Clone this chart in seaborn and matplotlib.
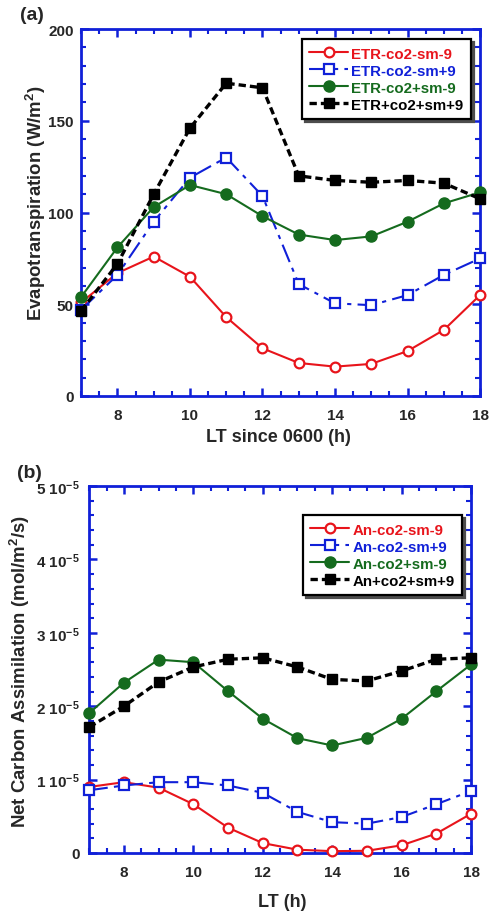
import matplotlib
matplotlib.use("Agg")
import matplotlib.pyplot as plt
import seaborn as sns
import numpy as np
import pandas as pd
from matplotlib.ticker import MultipleLocator, FixedLocator

hours = [7, 8, 9, 10, 11, 12, 13, 14, 15, 16, 17, 18]

etr_labels = ["ETR-co2-sm-9", "ETR-co2-sm+9", "ETR-co2+sm-9", "ETR+co2+sm+9"]
etr_red = [51, 67, 76, 65, 43, 26, 18, 16, 17.5, 24.5, 36, 55]
etr_blue = [47, 66, 95, 119, 130, 109, 61, 50.5, 49.5, 55, 66, 75]
etr_green = [54, 81, 103, 115, 110, 98, 88, 85, 87, 95, 105, 111]
etr_black = [46.5, 72, 110, 146, 170.5, 168, 120, 117.5, 116.5, 117.5, 116, 107.5]

an_labels = ["An-co2-sm-9", "An-co2-sm+9", "An-co2+sm-9", "An+co2+sm+9"]
an_red = [0.90e-5, 0.965e-5, 0.89e-5, 0.665e-5, 0.345e-5, 0.135e-5, 0.045e-5, 0.025e-5, 0.03e-5, 0.105e-5, 0.265e-5, 0.535e-5]
an_blue = [0.855e-5, 0.92e-5, 0.965e-5, 0.965e-5, 0.92e-5, 0.82e-5, 0.56e-5, 0.42e-5, 0.40e-5, 0.49e-5, 0.665e-5, 0.845e-5]
an_green = [1.905e-5, 2.32e-5, 2.635e-5, 2.60e-5, 2.205e-5, 1.83e-5, 1.565e-5, 1.465e-5, 1.57e-5, 1.83e-5, 2.205e-5, 2.57e-5]
an_black = [1.715e-5, 2.0e-5, 2.33e-5, 2.535e-5, 2.64e-5, 2.66e-5, 2.535e-5, 2.365e-5, 2.345e-5, 2.48e-5, 2.64e-5, 2.66e-5]

b_ytick_vals = [0, 1e-5, 2e-5, 3e-5, 4e-5, 5e-5]
b_ytick_labels = ["0", "1 10$^{-5}$", "2 10$^{-5}$", "3 10$^{-5}$", "4 10$^{-5}$", "5 10$^{-5}$"]

sns.set_style("ticks")
plt.rcParams["font.family"] = ["Liberation Sans", "DejaVu Sans"]
plt.rcParams["font.weight"] = "bold"
plt.rcParams["axes.labelweight"] = "bold"
plt.rcParams["mathtext.fontset"] = "custom"
plt.rcParams["mathtext.rm"] = "Liberation Sans:bold"
plt.rcParams["mathtext.bf"] = "Liberation Sans:bold"
plt.rcParams["mathtext.it"] = "Liberation Sans:bold"
plt.rcParams["mathtext.default"] = "bf"

fig = plt.figure(figsize=(4.98, 9.12), dpi=100)
ax1 = fig.add_axes([0.163, 0.5647, 0.801, 0.4023])
ax2 = fig.add_axes([0.179, 0.0636, 0.767, 0.4023])

styles = [
    dict(color="#e8141b", marker="o", mfc="white", mec="#e8141b", ls="-", lw=1.5, ms=7, mew=1.6),
    dict(color="#1020d8", marker="s", mfc="white", mec="#1020d8", ls=(0, (9, 3, 2, 3)), lw=1.5, ms=7, mew=1.6),
    dict(color="#156b1e", marker="o", mfc="#156b1e", mec="#156b1e", ls="-", lw=1.5, ms=8, mew=1),
    dict(color="black", marker="s", mfc="black", mec="black", ls=(0, (2.2, 1.2)), lw=2.4, ms=7, mew=1),
]

def draw(ax, series, labels):
    for vals, lab, st in zip(series, labels, styles):
        df = pd.DataFrame({"x": hours, "y": vals})
        sns.lineplot(data=df, x="x", y="y", ax=ax, label=lab, color=st["color"],
                     linestyle=st["ls"], linewidth=st["lw"], marker=st["marker"],
                     markersize=st["ms"], markerfacecolor=st["mfc"],
                     markeredgecolor=st["mec"], markeredgewidth=st["mew"],
                     clip_on=False, zorder=3)

def style_axes(ax, ypad):
    for s in ax.spines.values():
        s.set_color("#1020d8")
        s.set_linewidth(2.0)
    ax.tick_params(which="both", direction="in", top=True, right=True,
                   color="#1020d8", labelsize=11)
    ax.tick_params(axis="x", which="both", pad=9)
    ax.tick_params(axis="y", which="both", pad=ypad)
    ax.tick_params(which="major", length=6, width=1.8)
    ax.tick_params(which="minor", length=3.5, width=1.5)
    ax.set_xlim(7, 18)
    ax.xaxis.set_major_locator(FixedLocator([8, 10, 12, 14, 16, 18]))
    ax.xaxis.set_minor_locator(MultipleLocator(0.5))

def legend(ax, loc_bbox):
    leg = ax.legend(loc="upper right", bbox_to_anchor=loc_bbox, frameon=True, fancybox=False,
                    shadow={"color": "0.3", "alpha": 1.0}, edgecolor="black",
                    handlelength=2.6, handletextpad=0.2, borderpad=0.5, borderaxespad=0.0,
                    labelspacing=0.2, fontsize=10.8, framealpha=1)
    leg.get_frame().set_linewidth(1.6)
    for t, st in zip(leg.get_texts(), styles):
        t.set_color(st["color"])
        t.set_fontweight("bold")

draw(ax1, [etr_red, etr_blue, etr_green, etr_black], etr_labels)
style_axes(ax1, 5.5)
ax1.set_ylim(0, 200)
ax1.yaxis.set_major_locator(MultipleLocator(50))
ax1.yaxis.set_minor_locator(MultipleLocator(10))
ax1.set_xlabel("LT since 0600 (h)", fontsize=13, fontweight="bold")
ax1.set_ylabel("Evapotranspiration (W/m$^2$)", fontsize=13.4, fontweight="bold")
ax1.xaxis.set_label_coords(0.494, -0.087)
ax1.yaxis.set_label_coords(-0.084, 0.527)
legend(ax1, (0.977, 0.973))
fig.text(0.040, 0.983, "(a)", fontsize=14, fontweight="bold", ha="left", va="center")

draw(ax2, [an_red, an_blue, an_green, an_black], an_labels)
style_axes(ax2, 7)
ax2.set_ylim(0, 5e-5)
ax2.yaxis.set_major_locator(FixedLocator(b_ytick_vals))
ax2.set_yticklabels(b_ytick_labels)
ax2.yaxis.set_minor_locator(MultipleLocator(0.2e-5))
ax2.set_xlabel("LT (h)", fontsize=13, fontweight="bold")
ax2.set_ylabel("Net Carbon Assimilation (mol/m$^2$/s)", fontsize=13.4, fontweight="bold")
ax2.xaxis.set_label_coords(0.505, -0.109)
ax2.yaxis.set_label_coords(-0.150, 0.499)
legend(ax2, (0.976, 0.921))
fig.text(0.034, 0.481, "(b)", fontsize=14, fontweight="bold", ha="left", va="center")
for ax in (ax1, ax2):
    for lab in ax.get_xticklabels() + ax.get_yticklabels():
        lab.set_fontweight("bold")

fig.savefig("out.png", dpi=100)
